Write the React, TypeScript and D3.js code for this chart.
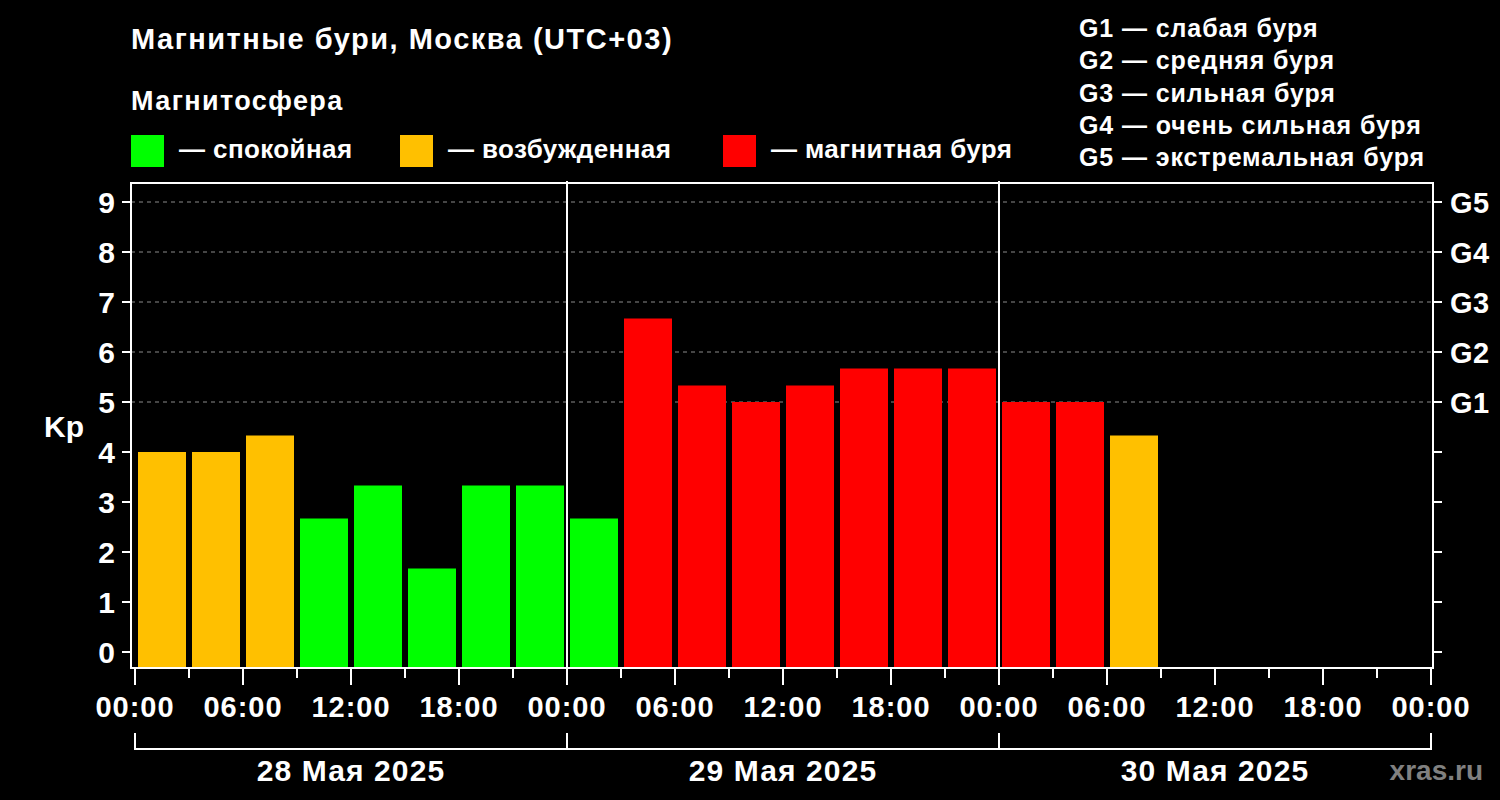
import React from "react";
import * as d3 from "d3";

const startHours = [0, 3, 6, 9, 12, 15, 18, 21, 24, 27, 30, 33, 36, 39, 42, 45, 48, 51, 54];
const kpValues = [4, 4, 4.33, 2.67, 3.33, 1.67, 3.33, 3.33, 2.67, 6.67, 5.33, 5, 5.33, 5.67, 5.67, 5.67, 5, 5, 4.33];
const tickHours = [0, 6, 12, 18, 24, 30, 36, 42, 48, 54, 60, 66, 72];
const tickLabels = ["00:00", "06:00", "12:00", "18:00", "00:00", "06:00", "12:00", "18:00", "00:00", "06:00", "12:00", "18:00", "00:00"];
const minorHours = [3, 9, 15, 21, 27, 33, 39, 45, 51, 57, 63, 69];
const dayLabels = ["28 Мая 2025", "29 Мая 2025", "30 Мая 2025"];
const dayStarts = [0, 24, 48];
const kpTicks = [0, 1, 2, 3, 4, 5, 6, 7, 8, 9];
const gLevels = ["G1", "G2", "G3", "G4", "G5"];
const gKp = [5, 6, 7, 8, 9];
const gDescriptions = [
  "G1 — слабая буря",
  "G2 — средняя буря",
  "G3 — сильная буря",
  "G4 — очень сильная буря",
  "G5 — экстремальная буря",
];
const legendLabels = ["— спокойная", "— возбужденная", "— магнитная буря"];

const GREEN = "#00ff00";
const YELLOW = "#ffc000";
const RED = "#ff0000";
const legendColors = [GREEN, YELLOW, RED];

const FONT = "'Liberation Sans', Arial, Helvetica, sans-serif";

function colorFor(v: number) {
  if (v >= 5) return RED;
  if (v >= 4) return YELLOW;
  return GREEN;
}

export default function App() {
  const x = d3.scaleLinear().domain([0, 72]).range([135, 1431]);
  const y = d3.scaleLinear().domain([0, 9]).range([652, 202]);
  const frameL = 131;
  const frameR = 1433;
  const frameT = 183;
  const frameB = 668;
  const barW = x(3) - x(0) - 6;

  return (
    <svg
      width={1500}
      height={800}
      style={{ position: "absolute", left: 0, top: 0, display: "block" }}
      fontFamily={FONT}
      fontWeight="bold"
    >
      <rect x={0} y={0} width={1500} height={800} fill="#000" />

      {/* Title */}
      <text x={131} y={49} fill="#fff" fontSize={29} letterSpacing={1.5}>
        Магнитные бури, Москва (UTC+03)
      </text>
      <text x={131} y={110} fill="#fff" fontSize={27} letterSpacing={1.4}>
        Магнитосфера
      </text>

      {/* Legend */}
      {[131, 400, 723].map((lx, i) => (
        <g key={i}>
          <rect x={lx} y={135} width={33} height={32} fill={legendColors[i]} />
          <text x={lx + 48} y={158} fill="#fff" fontSize={26} letterSpacing={0.4}>
            {legendLabels[i]}
          </text>
        </g>
      ))}

      {/* G descriptions */}
      {gDescriptions.map((t, i) => (
        <text key={i} x={1079} y={37 + i * 32.3} fill="#fff" fontSize={25} letterSpacing={0.9}>
          {t}
        </text>
      ))}

      {/* Grid */}
      {gKp.map((k, i) => (
        <line
          key={i}
          x1={frameL}
          x2={frameR}
          y1={y(k)}
          y2={y(k)}
          stroke="#8a8a8a"
          strokeWidth={1}
          strokeDasharray="4,4"
        />
      ))}

      {/* Bars */}
      {kpValues.map((v, i) => (
        <rect
          key={i}
          x={x(startHours[i]) + 3}
          y={y(v)}
          width={barW}
          height={frameB - y(v)}
          fill={colorFor(v)}
        />
      ))}

      {/* Day separators */}
      {[24, 48].map((h) => (
        <line key={h} x1={x(h)} x2={x(h)} y1={181} y2={frameB} stroke="#fff" strokeWidth={2} />
      ))}

      {/* Frame */}
      <rect
        x={frameL}
        y={frameT}
        width={frameR - frameL}
        height={frameB - frameT}
        fill="none"
        stroke="#fff"
        strokeWidth={2}
      />

      {/* Left/right ticks + labels */}
      {kpTicks.map((k) => (
        <g key={k}>
          <line x1={122} x2={frameL} y1={y(k)} y2={y(k)} stroke="#fff" strokeWidth={2} />
          <line x1={frameR} x2={1442} y1={y(k)} y2={y(k)} stroke="#fff" strokeWidth={2} />
          <text x={115} y={y(k) + 11} fill="#fff" fontSize={30} textAnchor="end">
            {k}
          </text>
        </g>
      ))}

      {/* Right G labels */}
      {gLevels.map((g, i) => (
        <text key={g} x={1450} y={y(gKp[i]) + 10.5} fill="#fff" fontSize={29} letterSpacing={0.5}>
          {g}
        </text>
      ))}

      {/* Kp label */}
      <text x={44} y={437} fill="#fff" fontSize={30}>
        Kp
      </text>

      {/* Bottom ticks */}
      {tickHours.map((h, i) => (
        <g key={h}>
          <line x1={x(h)} x2={x(h)} y1={frameB} y2={685} stroke="#fff" strokeWidth={2} />
          <text x={x(h)} y={717} fill="#fff" fontSize={29} textAnchor="middle" letterSpacing={1}>
            {tickLabels[i]}
          </text>
        </g>
      ))}
      {minorHours.map((h) => (
        <line key={h} x1={x(h)} x2={x(h)} y1={frameB} y2={678} stroke="#fff" strokeWidth={2} />
      ))}

      {/* Day brackets */}
      <line x1={x(0)} x2={x(72)} y1={749} y2={749} stroke="#fff" strokeWidth={2} />
      {[0, 24, 48, 72].map((h) => (
        <line key={h} x1={x(h)} x2={x(h)} y1={733} y2={750} stroke="#fff" strokeWidth={2} />
      ))}
      {dayLabels.map((d, i) => (
        <text key={d} x={x(dayStarts[i] + 12)} y={781} fill="#fff" fontSize={30} textAnchor="middle" letterSpacing={1.1}>
          {d}
        </text>
      ))}

      {/* Watermark */}
      <text x={1483} y={780} fill="#808080" fontSize={28} textAnchor="end">
        xras.ru
      </text>
    </svg>
  );
}
